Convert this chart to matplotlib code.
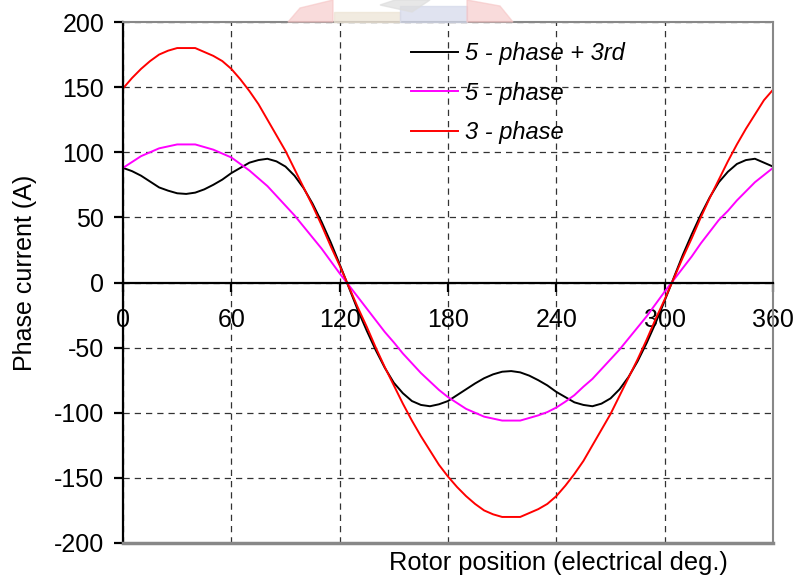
import matplotlib
matplotlib.use("Agg")
import matplotlib.pyplot as plt
from matplotlib.patches import Rectangle, Polygon

plt.rcParams['font.family'] = ['Liberation Sans', 'DejaVu Sans']
plt.rcParams['axes.unicode_minus'] = False

# rotor position, electrical degrees (5 deg steps)
angle = list(range(0, 361, 5))

# phase currents (A)
five_phase_3rd = [88, 85.5, 82, 77.5, 73, 70.5, 68.5, 68, 69, 71.5, 75, 79, 84, 88, 92, 94, 95, 93,
                  89, 82, 72.5, 60.5, 46.5, 31, 14, -3.5, -21, -37, -52, -65.5, -77, -85, -91, -94,
                  -95, -93.5, -91, -86.5, -82, -77.5, -73.5, -70.5, -68.5, -68, -69, -71.5, -75, -79,
                  -84, -88, -92, -94, -95, -93, -89, -82, -72.5, -60.5, -46.5, -31, -14, 3.5, 21, 37,
                  52, 65.5, 77, 85, 91, 94, 95, 92, 89]
five_phase = [88, 92.5, 97, 100, 103, 104.5, 106, 106, 106, 104, 102, 99, 96, 91, 86, 80, 74, 66.5,
              59, 51.5, 43, 34.5, 26, 16.5, 7, -2, -11, -20, -29, -38, -46, -54.5, -62, -69.5, -76,
              -82.5, -88, -92.5, -97, -100, -103, -104.5, -106, -106, -106, -104, -102, -99.5, -96,
              -91.5, -86.5, -80, -74, -66.5, -59, -51.5, -43, -34.5, -26, -16.5, -7, 2, 11, 20, 30,
              39, 48, 55, 63, 70, 77, 82.5, 88]
three_phase = [149, 157, 164, 170, 175, 178, 180, 180, 180, 177, 174, 170, 164, 156, 147, 137, 125,
               113, 101, 87, 73, 59, 44, 28, 13, -3, -19, -34, -50, -65, -79, -93, -106, -118, -129,
               -140, -149, -157, -164, -170, -175, -178, -180, -180, -180, -177, -174, -170, -164,
               -156, -147, -137, -125, -113, -101, -87, -73, -59, -44, -28, -13, 3, 19, 34, 50, 65,
               79, 93, 106, 118, 129, 140, 148]

xticks = [0, 60, 120, 180, 240, 300, 360]
yticks = [-200, -150, -100, -50, 0, 50, 100, 150, 200]

fig = plt.figure(figsize=(7.98, 5.79), dpi=100)

# faint crest watermark peeking in at the top
fig.patches.append(Rectangle((334/798, 1-22/579), 66/798, 10/579, transform=fig.transFigure,
                             color='#ece3d3', alpha=0.7, zorder=0))
fig.patches.append(Rectangle((400/798, 1-22/579), 67/798, 16/579, transform=fig.transFigure,
                             color='#d3d8ea', alpha=0.7, zorder=0))
fig.patches.append(Polygon([(288/798, 1-22/579), (300/798, 1-8/579), (333/798, 1), (333/798, 1-22/579)],
                           closed=True, transform=fig.transFigure, color='#f6c4c4', alpha=0.6, zorder=0))
fig.patches.append(Polygon([(467/798, 1-22/579), (467/798, 1), (500/798, 1-6/579), (513/798, 1-22/579)],
                           closed=True, transform=fig.transFigure, color='#f6c4c4', alpha=0.6, zorder=0))
fig.patches.append(Polygon([(380/798, 1-5/579), (395/798, 1), (430/798, 1), (412/798, 1-12/579)],
                           closed=True, transform=fig.transFigure, color='#dddddd', alpha=0.7, zorder=0))

ax = fig.add_axes([123/798, 36/579, 650/798, 521/579])
ax.patch.set_alpha(0)

ax.plot(angle, five_phase_3rd, color='black', lw=1.4, label='5 - phase + 3rd')
ax.plot(angle, five_phase, color='#ff00ff', lw=1.4, label='5 - phase')
ax.plot(angle, three_phase, color='#ff0000', lw=1.4, label='3 - phase')

ax.set_xlim(0, 360)
ax.set_ylim(-200, 200)
ax.set_xticks(xticks)
ax.set_yticks(yticks)

ax.grid(True, color='#333333', lw=0.9, linestyle=(0, (5, 4)))

ax.spines['bottom'].set_position(('data', 0))
ax.spines['bottom'].set_linewidth(1.6)
ax.spines['left'].set_linewidth(1.6)
for s in ['top', 'right']:
    ax.spines[s].set_color('#888888')
    ax.spines[s].set_linewidth(1.5)
ax.axhline(-200, color='#888888', lw=2.5, clip_on=False, zorder=5)

ax.tick_params(axis='x', direction='out', length=6.5, width=1.6, pad=12, labelsize=18)
ax.tick_params(axis='y', direction='out', length=6.5, width=1.6, pad=7, labelsize=18)

fig.text(25.5/798, 1-272.5/579, 'Phase current (A)', fontsize=18, rotation=90, ha='center', va='center')
fig.text(558/798, 1-563/579, 'Rotor position (electrical deg.)', fontsize=18.3, ha='center', va='center')

leg = ax.legend(loc='upper left', bbox_to_anchor=(411/798, 1-42/579), bbox_transform=fig.transFigure,
                frameon=False, borderpad=0, borderaxespad=0, handlelength=2.0, handletextpad=0.3,
                labelspacing=0.7, prop={'style': 'italic', 'size': 17})

fig.savefig('out.png', dpi=100)
